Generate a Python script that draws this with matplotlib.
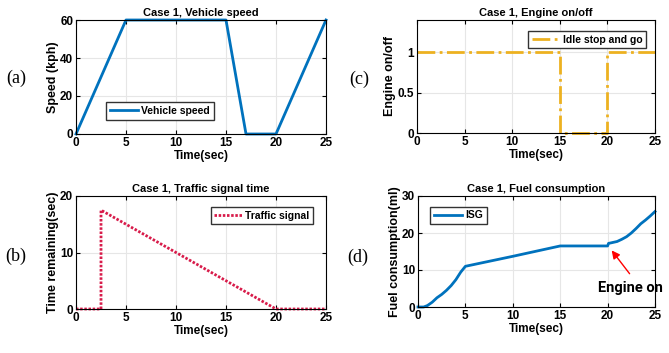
import matplotlib.pyplot as plt
from matplotlib import font_manager

# data
speed_t = [0, 5, 15, 17, 20, 25]
speed_v = [0, 60, 60, 0, 0, 60]

engine_t = [0, 15, 15, 20, 20, 25]
engine_v = [1, 1, 0, 0, 1, 1]

signal_t = [0, 2.5, 2.5, 20, 25]
signal_v = [0, 0, 17.5, 0, 0]

fuel_t = [0, 0.6, 1, 1.5, 2, 2.5, 3, 3.5, 4, 4.5, 5, 10, 15, 20, 20.1, 20.3,
          21, 21.5, 22, 22.5, 23, 23.5, 24, 24.5, 25]
fuel_v = [0, 0, 0.4, 1.3, 2.5, 3.4, 4.5, 5.8, 7.4, 9.4, 11, 13.7, 16.5, 16.5,
          17.2, 17.3, 17.7, 18.3, 19.0, 20.0, 21.2, 22.5, 23.5, 24.6, 25.8]

names = [f.name for f in font_manager.fontManager.ttflist]
sans = 'Liberation Sans Narrow' if 'Liberation Sans Narrow' in names else 'Liberation Sans'
plt.rcParams['font.family'] = [sans, 'DejaVu Sans']
plt.rcParams['font.weight'] = 'bold'
plt.rcParams['axes.labelweight'] = 'bold'
plt.rcParams['axes.titleweight'] = 'bold'

W, H = 669, 353
fig = plt.figure(figsize=(W / 100, H / 100), dpi=100)

leg_kw = dict(fontsize=7.5, fancybox=False, edgecolor='#333333', borderpad=0.35,
              handlelength=2.7, handletextpad=0.3, framealpha=1)


def make_ax(x0, x1, y0, y1):
    ax = fig.add_axes([x0 / W, 1 - y1 / H, (x1 - x0) / W, (y1 - y0) / H])
    ax.grid(True, color='#e6e6e6', lw=0.8)
    ax.set_axisbelow(True)
    ax.tick_params(direction='in', labelsize=8.5, length=3, top=True, right=True,
                   pad=2)
    for s in ax.spines.values():
        s.set_linewidth(0.8)
    ax.set_xlim(0, 25)
    ax.set_xticks([0, 5, 10, 15, 20, 25])
    ax.set_xlabel('Time(sec)', fontsize=8.5, labelpad=1)
    return ax


blue = '#0072BD'

# (a) vehicle speed
ax = make_ax(76, 326, 20, 134)
ax.plot(speed_t, speed_v, color=blue, lw=2, label='Vehicle speed', clip_on=False)
ax.set_ylim(0, 60)
ax.set_yticks([0, 20, 40, 60])
ax.set_ylabel('Speed (kph)', fontsize=9, labelpad=1)
ax.set_title('Case 1, Vehicle speed', fontsize=8, pad=3)
ax.legend(loc='lower left', bbox_to_anchor=(0.1, 0.08), **leg_kw)

# (b) traffic signal
ax = make_ax(76, 326, 196, 309)
ax.plot(signal_t, signal_v, color='#d81b4a', lw=2, ls=(0, (0.9, 0.6)),
        label='Traffic signal', clip_on=False)
ax.set_ylim(0, 20)
ax.set_yticks([0, 10, 20])
ax.set_ylabel('Time remaining(sec)', fontsize=9, labelpad=1)
ax.set_title('Case 1, Traffic signal time', fontsize=8, pad=3)
ax.legend(loc='upper right', bbox_to_anchor=(0.97, 0.95), **leg_kw)

# (c) engine on/off
ax = make_ax(417, 655, 20, 133)
ax.plot(engine_t, engine_v, color='#EDB120', lw=2, ls='-.', label='Idle stop and go',
        clip_on=False)
ax.set_ylim(0, 1.4)
ax.set_yticks([0, 0.5, 1])
ax.set_yticklabels(['0', '0.5', '1'])
ax.set_ylabel('Engine on/off', fontsize=9, labelpad=1)
ax.set_title('Case 1, Engine on/off', fontsize=8, pad=3)
ax.legend(loc='upper right', bbox_to_anchor=(0.985, 0.95), **leg_kw)

# (d) fuel consumption
ax = make_ax(418, 655, 196, 307)
ax.plot(fuel_t, fuel_v, color=blue, lw=2, label='ISG', clip_on=False)
ax.set_ylim(0, 30)
ax.set_yticks([0, 10, 20, 30])
ax.set_ylabel('Fuel consumption(ml)', fontsize=9, labelpad=1)
ax.set_title('Case 1, Fuel consumption', fontsize=8, pad=3)
ax.legend(loc='upper left', bbox_to_anchor=(0.03, 0.95), **leg_kw)
ax.annotate('', xy=(20.25, 15.9), xytext=(22.5, 8.4),
            arrowprops=dict(arrowstyle='-|>', color='red', lw=1, mutation_scale=12))
fig.text(598 / W, 1 - 288 / H, 'Engine on', fontsize=10.5, fontweight='bold',
         family=['Roboto', 'DejaVu Sans'], va='center', ha='left')

# panel letters
for lab, x, y in [('(a)', 16, 78), ('(b)', 16, 256), ('(c)', 359, 79), ('(d)', 358, 257)]:
    fig.text(x / W, 1 - y / H, lab, fontsize=13, fontweight='normal',
             family=['Liberation Serif', 'DejaVu Serif'], ha='center', va='center')

fig.savefig('out.png', dpi=100)
